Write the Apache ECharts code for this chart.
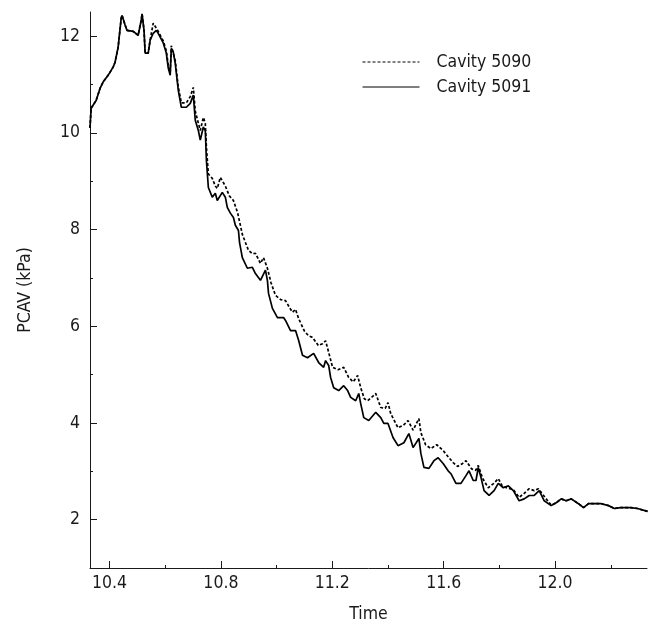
<!DOCTYPE html>
<html>
<head>
<meta charset="utf-8">
<script src="https://cdn.jsdelivr.net/npm/echarts@6/dist/echarts.min.js"></script>
<style>
  html, body { margin: 0; padding: 0; background: #fff; }
  #chart { width: 654px; height: 628px; }
</style>
</head>
<body>
<div id="chart"></div>
<script>
// [time, PCAV kPa]
// both cavities run together at the start and at the end
var sharedHead = [
  [10.330, 10.10], [10.334, 10.51], [10.352, 10.67], [10.366, 10.92], [10.377, 11.05],
  [10.395, 11.19], [10.413, 11.36], [10.420, 11.46], [10.431, 11.77], [10.442, 12.37],
  [10.445, 12.43], [10.456, 12.23], [10.463, 12.12], [10.485, 12.10], [10.503, 12.02],
  [10.514, 12.33], [10.517, 12.46], [10.524, 12.12], [10.528, 11.65], [10.539, 11.65],
  [10.546, 11.92]
];
var sharedTail = [
  [12.004, 2.35], [12.022, 2.43], [12.040, 2.39], [12.058, 2.43], [12.084, 2.33],
  [12.102, 2.25], [12.120, 2.33], [12.141, 2.33], [12.166, 2.33], [12.192, 2.29],
  [12.213, 2.23], [12.235, 2.25], [12.271, 2.25], [12.296, 2.23], [12.332, 2.17]
];
var mid5091 = [
  [10.557, 12.06], [10.568, 12.12], [10.575, 12.06], [10.593, 11.86], [10.604, 11.65],
  [10.611, 11.34], [10.618, 11.19], [10.622, 11.75], [10.629, 11.67], [10.636, 11.44],
  [10.647, 10.88], [10.658, 10.53], [10.676, 10.53], [10.690, 10.61], [10.701, 10.78],
  [10.708, 10.26], [10.719, 10.05], [10.726, 9.85], [10.737, 10.12], [10.744, 10.05],
  [10.748, 9.43], [10.755, 8.87], [10.769, 8.67], [10.780, 8.75], [10.787, 8.60],
  [10.805, 8.77], [10.816, 8.67], [10.823, 8.46], [10.834, 8.34], [10.845, 8.25],
  [10.852, 8.09], [10.863, 7.98], [10.867, 7.73], [10.877, 7.42], [10.895, 7.20],
  [10.913, 7.22], [10.924, 7.09], [10.942, 6.95], [10.960, 7.16], [10.967, 6.95],
  [10.971, 6.68], [10.985, 6.37], [11.003, 6.18], [11.025, 6.18], [11.032, 6.12],
  [11.050, 5.91], [11.068, 5.91], [11.079, 5.71], [11.093, 5.40], [11.111, 5.35],
  [11.133, 5.44], [11.151, 5.25], [11.169, 5.15], [11.176, 5.29], [11.187, 5.19],
  [11.194, 4.94], [11.205, 4.73], [11.223, 4.67], [11.241, 4.77], [11.255, 4.67],
  [11.266, 4.53], [11.284, 4.46], [11.295, 4.61], [11.302, 4.40], [11.313, 4.11],
  [11.331, 4.05], [11.356, 4.22], [11.374, 4.11], [11.385, 3.99], [11.400, 3.99],
  [11.418, 3.70], [11.436, 3.53], [11.457, 3.59], [11.475, 3.78], [11.490, 3.49],
  [11.511, 3.68], [11.518, 3.37], [11.529, 3.08], [11.547, 3.06], [11.565, 3.22],
  [11.580, 3.28], [11.598, 3.16], [11.616, 3.01], [11.626, 2.95], [11.644, 2.75],
  [11.662, 2.75], [11.680, 2.91], [11.691, 3.01], [11.706, 2.81], [11.716, 2.81],
  [11.724, 3.08], [11.731, 3.08], [11.734, 2.87], [11.745, 2.60], [11.763, 2.50],
  [11.781, 2.60], [11.796, 2.75], [11.814, 2.66], [11.832, 2.70], [11.850, 2.60],
  [11.871, 2.39], [11.889, 2.43], [11.907, 2.50], [11.925, 2.50], [11.943, 2.60],
  [11.961, 2.39], [11.986, 2.29]
];
var mid5090 = [
  [10.557, 12.27], [10.575, 12.10], [10.593, 11.90], [10.604, 11.70], [10.611, 11.40],
  [10.618, 11.25], [10.622, 11.80], [10.636, 11.50], [10.647, 10.95], [10.658, 10.62],
  [10.676, 10.62], [10.690, 10.75], [10.701, 10.94], [10.708, 10.45], [10.719, 10.20],
  [10.726, 10.05], [10.737, 10.32], [10.744, 10.20], [10.748, 9.70], [10.755, 9.15],
  [10.769, 9.06], [10.780, 8.90], [10.787, 8.85], [10.798, 9.08], [10.816, 8.90],
  [10.830, 8.70], [10.845, 8.60], [10.860, 8.35], [10.877, 7.90], [10.899, 7.57],
  [10.913, 7.50], [10.924, 7.51], [10.942, 7.30], [10.953, 7.42], [10.967, 7.20],
  [10.980, 6.90], [10.996, 6.64], [11.015, 6.55], [11.032, 6.53], [11.045, 6.40],
  [11.057, 6.29], [11.068, 6.35], [11.079, 6.16], [11.100, 5.90], [11.115, 5.80],
  [11.129, 5.77], [11.150, 5.60], [11.165, 5.64], [11.176, 5.70], [11.187, 5.46],
  [11.201, 5.15], [11.220, 5.10], [11.241, 5.15], [11.259, 4.94], [11.275, 4.85],
  [11.291, 4.98], [11.302, 4.73], [11.315, 4.50], [11.327, 4.46], [11.345, 4.55],
  [11.356, 4.61], [11.374, 4.32], [11.390, 4.30], [11.400, 4.42], [11.410, 4.19],
  [11.436, 3.90], [11.455, 3.95], [11.472, 4.05], [11.490, 3.85], [11.511, 4.09],
  [11.518, 3.80], [11.535, 3.55], [11.554, 3.47], [11.575, 3.55], [11.598, 3.43],
  [11.616, 3.30], [11.634, 3.18], [11.650, 3.10], [11.665, 3.15], [11.680, 3.22],
  [11.700, 3.05], [11.715, 3.02], [11.724, 3.12], [11.740, 2.85], [11.760, 2.66],
  [11.780, 2.75], [11.796, 2.85], [11.810, 2.70], [11.825, 2.66], [11.850, 2.62],
  [11.871, 2.46], [11.890, 2.55], [11.907, 2.64], [11.925, 2.60], [11.940, 2.64],
  [11.968, 2.43], [11.986, 2.30]
];

var cavity5090 = sharedHead.concat(mid5090, sharedTail);
var cavity5091 = sharedHead.concat(mid5091, sharedTail);

// ticks
var xMajor = [10.4, 10.8, 11.2, 11.6, 12.0];
var xMinor = [10.6, 11.0, 11.4, 11.8, 12.2];
var yMajor = [2, 4, 6, 8, 10, 12];
var yMinor = [3, 5, 7, 9, 11];

var FONT = 'DejaVu Sans Condensed';
var INK = '#1a1a1a';

var chart = echarts.init(document.getElementById('chart'));

function axisBase(min, max) {
  return {
    type: 'value', min: min, max: max,
    splitLine: { show: false },
    axisLine: { show: true, lineStyle: { color: INK, width: 1 } }
  };
}

var xMain = axisBase(10.33, 12.33);
xMain.position = 'bottom';
xMain.name = 'Time';
xMain.nameLocation = 'middle';
xMain.nameGap = 37;
xMain.nameTextStyle = { fontFamily: FONT, fontSize: 17.5, color: INK };
xMain.axisTick = { show: true, inside: true, length: 7, customValues: xMajor, lineStyle: { color: INK } };
xMain.axisLabel = {
  customValues: xMajor, margin: 6, fontFamily: FONT, fontSize: 17.5, color: INK,
  formatter: function (v) { return v.toFixed(1); }
};

var xSub = axisBase(10.33, 12.33);
xSub.position = 'bottom';
xSub.axisLine = { show: false };
xSub.axisTick = { show: true, inside: true, length: 3, customValues: xMinor, lineStyle: { color: INK } };
xSub.axisLabel = { show: false };

var yMain = axisBase(1, 12.5);
yMain.position = 'left';
yMain.name = 'PCAV (kPa)';
yMain.nameLocation = 'middle';
yMain.nameGap = 56;
yMain.nameTextStyle = { fontFamily: FONT, fontSize: 17.5, color: INK };
yMain.axisTick = { show: true, inside: true, length: 7, customValues: yMajor, lineStyle: { color: INK } };
yMain.axisLabel = { customValues: yMajor, margin: 10, fontFamily: FONT, fontSize: 17.5, color: INK };

var ySub = axisBase(1, 12.5);
ySub.position = 'left';
ySub.axisLine = { show: false };
ySub.axisTick = { show: true, inside: true, length: 3, customValues: yMinor, lineStyle: { color: INK } };
ySub.axisLabel = { show: false };

chart.setOption({
  backgroundColor: '#fff',
  animation: false,
  grid: { left: 90, right: 7, top: 12, bottom: 59, containLabel: false },
  legend: {
    orient: 'vertical',
    left: 357,
    top: 48,
    itemWidth: 57,
    itemHeight: 20,
    itemGap: 7,
    lineStyle: { width: 1 },
    itemStyle: { color: 'transparent', borderWidth: 0, opacity: 0 },
    textStyle: { fontFamily: FONT, fontSize: 17.5, color: INK, padding: [0, 0, 0, 12] },
    data: ['Cavity 5090', 'Cavity 5091']
  },
  xAxis: [xMain, xSub],
  yAxis: [yMain, ySub],
  series: [
    {
      name: 'Cavity 5090',
      type: 'line',
      symbol: 'none',
      data: cavity5090,
      lineStyle: { color: '#000', width: 1.7, type: [3, 2] },
      itemStyle: { color: '#000' }
    },
    {
      name: 'Cavity 5091',
      type: 'line',
      symbol: 'none',
      data: cavity5091,
      lineStyle: { color: '#000', width: 1.7, type: 'solid' },
      itemStyle: { color: '#000' }
    }
  ]
});
</script>
</body>
</html>
